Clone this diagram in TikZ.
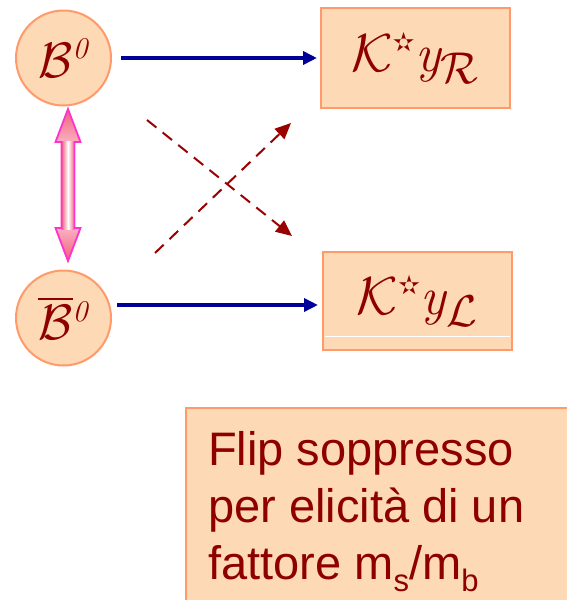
\RequirePackage{fix-cm}
\documentclass[tikz,border=0pt]{standalone}
\usepackage{fontspec}
\usepackage{amsmath}
\newfontfamily\textsans{Liberation Sans}
\newfontfamily\symfont{DejaVu Sans}
\usetikzlibrary{arrows.meta,calc}
\definecolor{peach}{HTML}{FDD9B5}
\definecolor{edgeorange}{HTML}{FF9A6A}
\definecolor{txtred}{HTML}{8E0000}
\definecolor{navy}{HTML}{000099}
\definecolor{dashred}{HTML}{990000}
\definecolor{pinkedge}{HTML}{FF33CC}
\definecolor{pinkfill}{HTML}{F0607E}
\definecolor{pinklight}{HTML}{FAB0C0}
\tikzset{
  mesonnode/.style={circle,draw=edgeorange,line width=2pt,fill=peach,minimum size=95pt,inner sep=0pt,text=txtred,font=\fontsize{24.88}{26}\selectfont},
  boxnode/.style={rectangle,draw=edgeorange,line width=2pt,fill=peach,inner sep=0pt,text=txtred,font=\fontsize{24.88}{26}\selectfont},
  bluearrow/.style={draw=navy,line width=3.5pt,-{Triangle[length=14pt,width=13pt]}},
  dasharrow/.style={draw=dashred,line width=2pt,dash pattern=on 12pt off 8pt,-{Triangle[length=16pt,width=14pt]}},
}
\newcommand{\kstar}{\text{\fontsize{12}{12}\selectfont\symfont\char"272B}}
\newcommand{\supzero}{\text{\fontsize{15}{15}\selectfont\itshape 0}}
\begin{document}
\begin{tikzpicture}[x=1pt,y=-1pt]
\useasboundingbox (0,0) rectangle (566,600);
% mesons
\node[mesonnode] (b0) at (63.5,58) {\scalebox{2}{$\mathcal{B}^{\supzero}$}};
\node[mesonnode] (b0bar) at (63.5,318) {\scalebox{2}{$\overline{\mathcal{B}}{}^{\supzero}$}};
% final states
\node[boxnode,minimum width=189pt,minimum height=100pt] (kr) at (415.5,58) {\scalebox{2.15}{$\mathcal{K}^{\kstar}\mathit{y}_{\mathcal{R}}$}\hspace{12pt}};
\node[boxnode,minimum width=189pt,minimum height=98pt] (kl) at (417.5,301) {\scalebox{2.15}{$\mathcal{K}^{\kstar}\mathit{y}_{\mathcal{L}}$}\hspace{14pt}};
\coordinate (wl1) at (325,336);
\coordinate (wl2) at (510,336);
\draw[white,line width=1pt] (wl1) -- (wl2);
% blue arrows
\draw[bluearrow,shorten <=9pt,shorten >=3pt] (b0.east) -- (kr.west);
\coordinate (bl1) at (117,305);
\coordinate (bl2) at (321,305);
\draw[bluearrow,shorten >=3pt] (bl1) -- (bl2);
% dashed crossing arrows
\coordinate (d1s) at (147,120);
\coordinate (d1e) at (292,236);
\coordinate (d2s) at (155,253);
\coordinate (d2e) at (291,123);
\draw[dasharrow] (d1s) -- (d1e);
\draw[dasharrow] (d2s) -- (d2e);
% pink double arrow
\coordinate (pt) at (68,109);
\coordinate (pb) at (68,261);
\fill[top color=pinkfill,bottom color=pinklight] (pt) -- ++(12.5,33) -- ++(-25,0) -- cycle;
\fill[top color=pinklight,bottom color=pinkfill] (pb) -- ++(12.5,-33) -- ++(-25,0) -- cycle;
\fill[left color=pinkfill,right color=pinkfill,middle color=white] ($(pt)+(-6.5,32)$) rectangle ($(pb)+(6.5,-32)$);
\draw[draw=pinkedge,line width=1.8pt,line join=miter]
  (pt) -- ++(12.5,33) -- ++(-6,0) -- ($(pb)+(6.5,-33)$) -- ++(6,0) -- (pb)
  -- ++(-12.5,-33) -- ++(6,0) -- ($(pt)+(-6.5,33)$) -- ++(-6,0) -- cycle;
% comment box
\node[boxnode,anchor=north west,minimum width=420pt,minimum height=230pt] (note) at (185,407) {};
\node[anchor=north west,align=left,text=txtred,inner sep=0pt,font=\textsans\fontsize{47}{57}\selectfont] (notetext) at (208,431)
 {Flip soppresso\\per elicità di un\\fattore m\raisebox{-0.25em}{\fontsize{31}{31}\selectfont s}/m\raisebox{-0.25em}{\fontsize{31}{31}\selectfont b}};
\end{tikzpicture}
\end{document}
